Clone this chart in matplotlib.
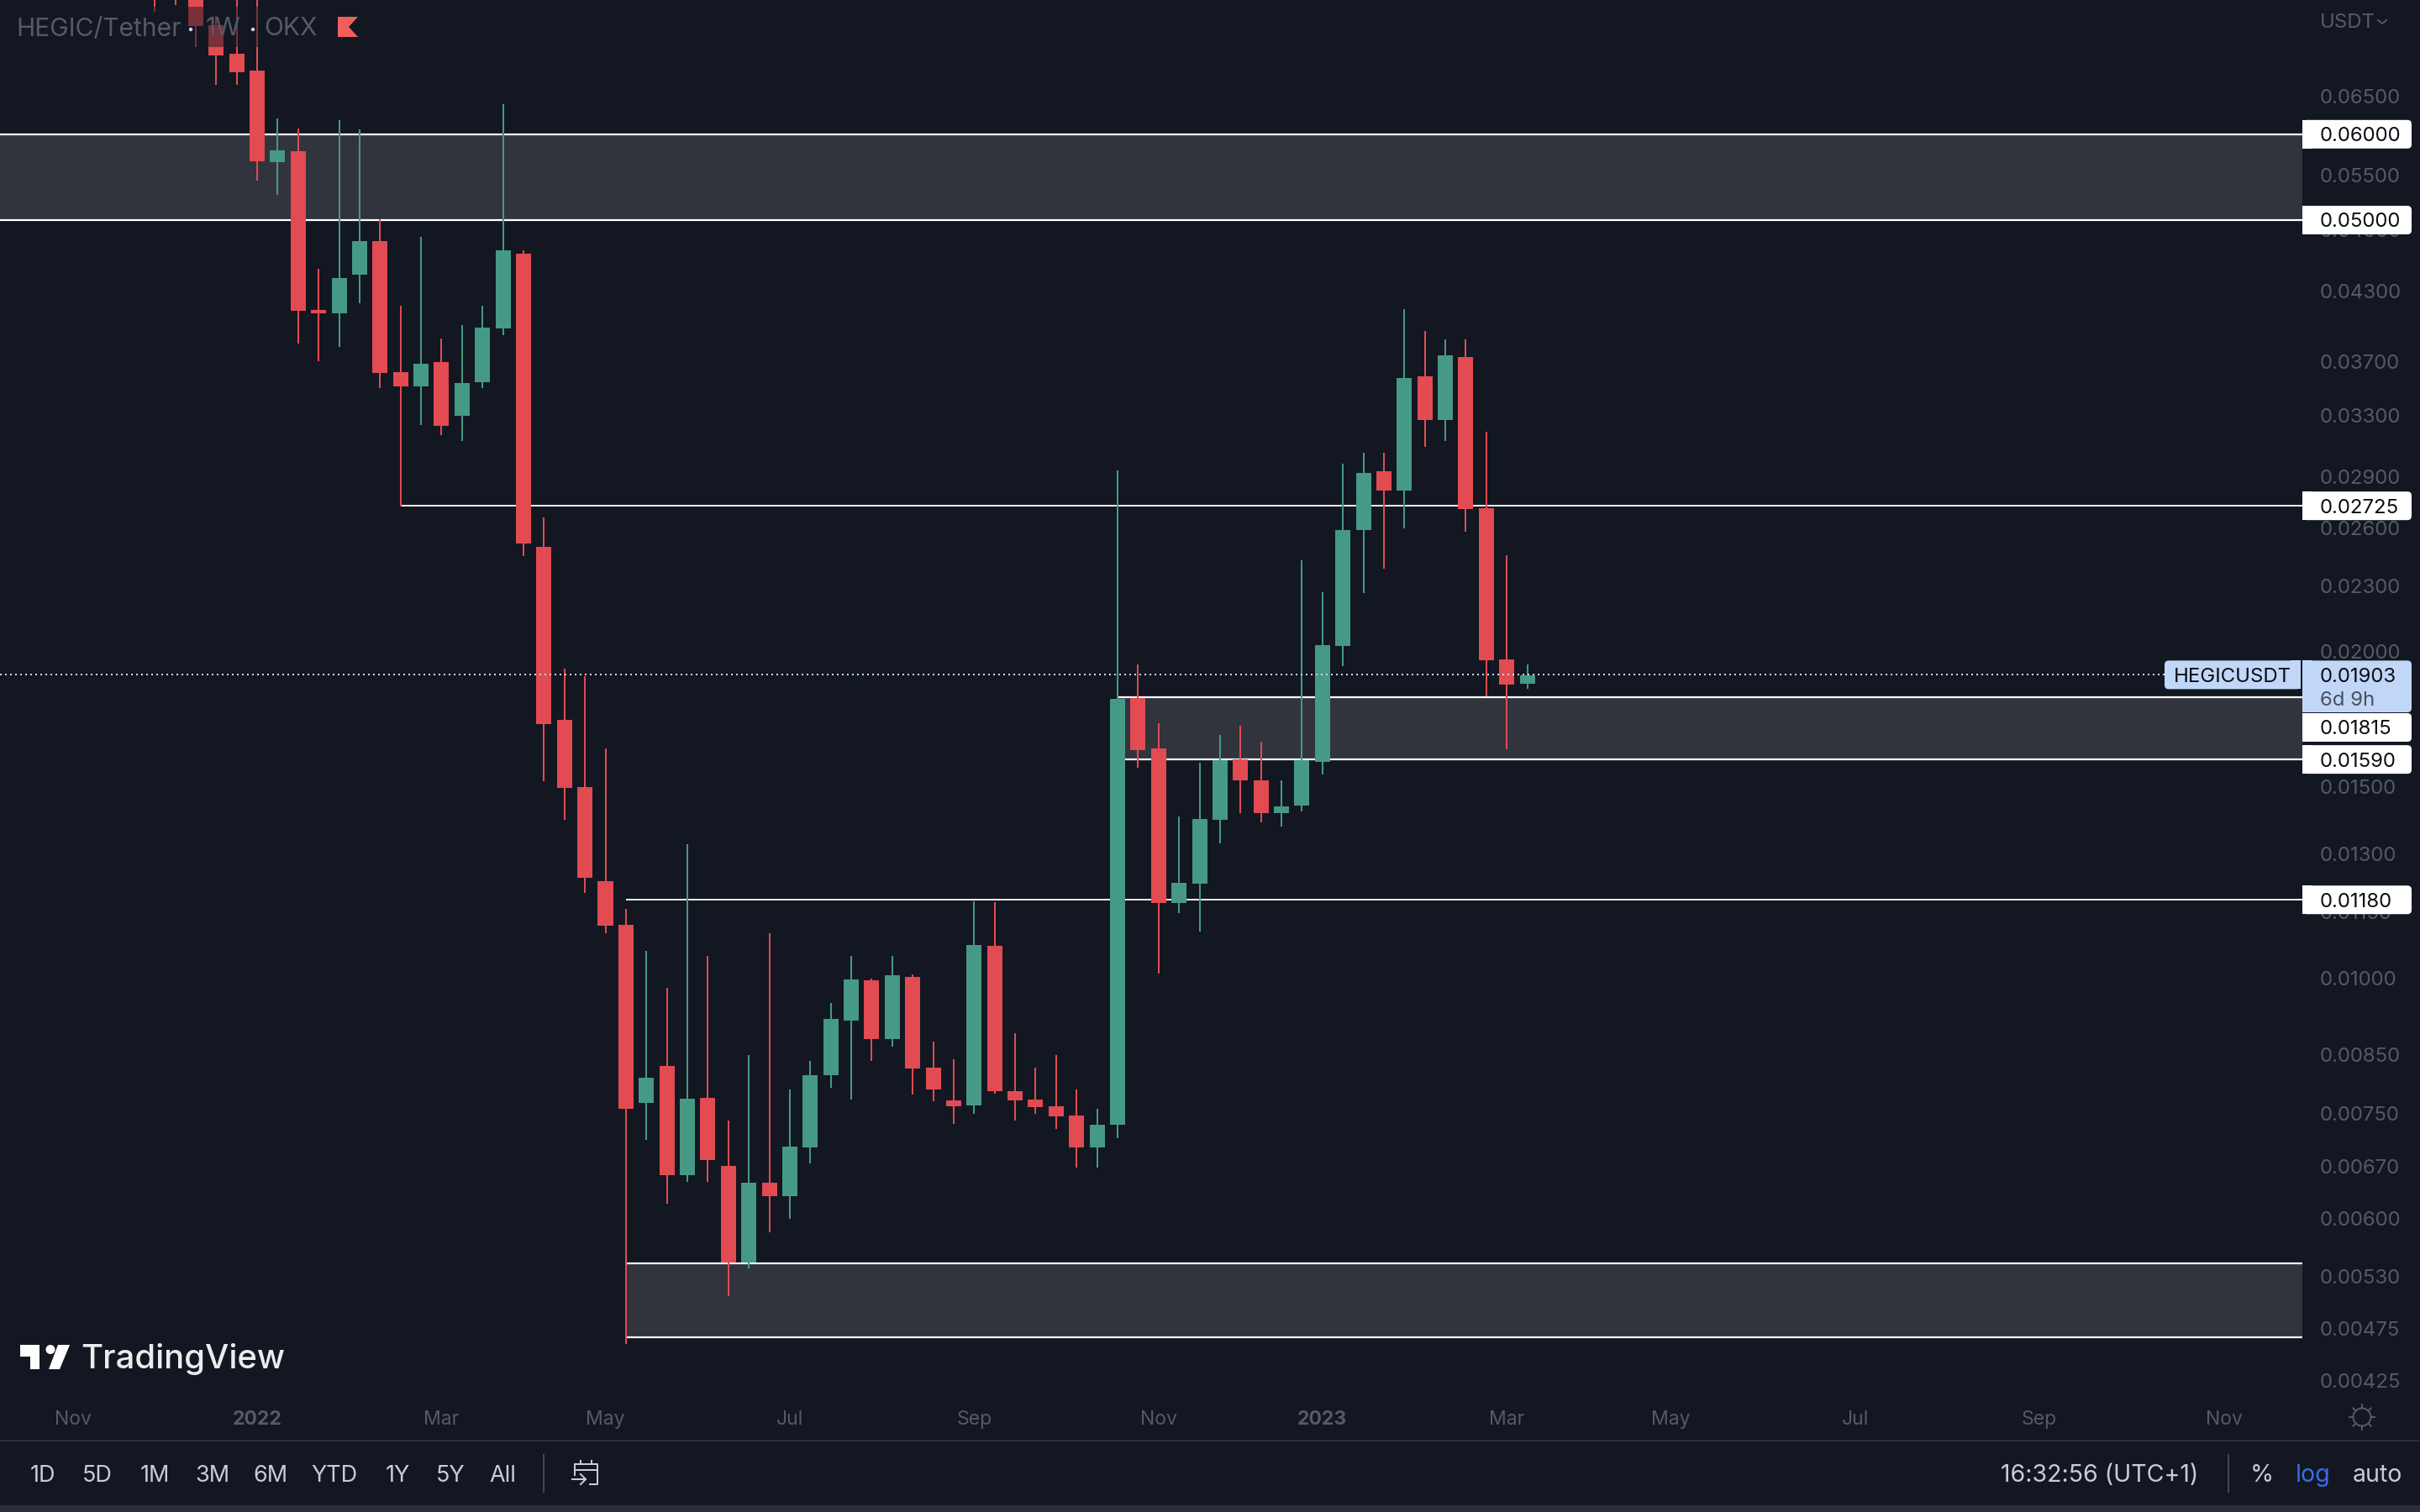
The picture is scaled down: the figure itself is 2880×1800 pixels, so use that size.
import matplotlib
matplotlib.use('Agg')
import matplotlib.pyplot as plt
import matplotlib.dates as mdates
from matplotlib.patches import Rectangle, FancyBboxPatch, Polygon, Circle
import numpy as np
import pandas as pd

plt.rcParams['font.family'] = ['Inter', 'DejaVu Sans']

#- weekly candles
opens = [0.088811,0.085698,0.081959,0.075637,0.071185,0.06869,0.05655,0.057877,0.041311,0.041017,0.044525,0.047819,0.036201,0.03512,0.036985,0.032994,0.035435,0.039721,0.046556,0.024978,0.017296,0.014995,0.012279,0.011191,0.007667,0.008293,0.006576,0.007749,0.006707,0.005463,0.006472,0.006289,0.006975,0.008132,0.009132,0.009948,0.00878,0.010019,0.008263,0.007708,0.007626,0.010703,0.007861,0.007722,0.007612,0.007464,0.006975,0.007319,0.018117,0.016278,0.011723,0.012214,0.013987,0.015905,0.015211,0.014189,0.014418,0.01582,0.020236,0.025885,0.029329,0.02815,0.03588,0.032701,0.037383,0.027115,0.019667,0.018675]
closes = [0.082694,0.081232,0.075502,0.070931,0.068445,0.056651,0.05798,0.041237,0.041017,0.044209,0.047819,0.036137,0.03512,0.036853,0.032295,0.035371,0.039792,0.04689,0.025157,0.017142,0.014969,0.012367,0.011171,0.007572,0.008088,0.006576,0.007736,0.006791,0.005463,0.006472,0.006289,0.006988,0.008132,0.009164,0.009966,0.00878,0.010055,0.008249,0.007889,0.007612,0.010722,0.007861,0.007708,0.007599,0.007451,0.006975,0.007319,0.018085,0.01622,0.011723,0.012236,0.014012,0.015876,0.015211,0.014189,0.014392,0.015876,0.020272,0.025885,0.029224,0.02815,0.035752,0.032701,0.037516,0.027066,0.019632,0.018642,0.019011]
highs = [0.09204,0.09041,0.08418,0.07714,0.08123,0.08051,0.06205,0.06073,0.04508,0.06183,0.06063,0.05009,0.04168,0.04825,0.03888,0.04001,0.04168,0.06396,0.04689,0.02659,0.01928,0.01898,0.01628,0.01158,0.01059,0.00979,0.01328,0.01048,0.00738,0.00849,0.01099,0.00789,0.00838,0.00948,0.01048,0.00998,0.01048,0.01007,0.00873,0.00841,0.01176,0.01174,0.00889,0.00826,0.00849,0.00789,0.00757,0.02938,0.01946,0.01717,0.01409,0.01579,0.01675,0.01708,0.01651,0.01521,0.02428,0.02268,0.0298,0.0305,0.0305,0.04138,0.03951,0.03881,0.03881,0.03189,0.02454,0.01946]
lows = [0.07783,0.07895,0.07221,0.06664,0.06664,0.05437,0.05275,0.03847,0.03705,0.03819,0.0419,0.03499,0.02721,0.03235,0.03167,0.03127,0.03499,0.03916,0.02449,0.01518,0.01399,0.01198,0.01099,0.00459,0.00709,0.00619,0.00648,0.00648,0.00509,0.00539,0.00582,0.00599,0.00674,0.00792,0.00772,0.00838,0.00864,0.0078,0.00769,0.00733,0.00749,0.00782,0.00738,0.00749,0.00725,0.00668,0.00668,0.00711,0.01562,0.01009,0.01147,0.01103,0.01331,0.01419,0.01391,0.01379,0.01424,0.0154,0.01939,0.02264,0.02385,0.02598,0.03089,0.03127,0.02579,0.01818,0.01625,0.01848]
last_week = '2023-03-06'

price_ticks = [0.065,0.055,0.049,0.043,0.037,0.033,0.029,0.026,0.023,0.020,0.015,0.013,0.0115,0.010,0.0085,0.0075,0.0067,0.0060,0.0053,0.00475,0.00425]
time_tick_dates = ['2021-10-25','2021-12-27','2022-02-28','2022-04-25','2022-06-27','2022-08-29','2022-10-31','2022-12-26','2023-02-27','2023-04-24','2023-06-26','2023-08-28','2023-10-30']
time_tick_labels = ['Nov','2022','Mar','May','Jul','Sep','Nov','2023','Mar','May','Jul','Sep','Nov']

#- drawn levels: zones (top, bottom, first candle index, None = from the left edge)
zone_tops = [0.06,0.01815,0.005453]
zone_bots = [0.05,0.0159,0.004663]
zone_from = [None,47,23]
line_levels = [0.02725,0.0118]
line_from = [12,23]
last_price = 0.01903

BG = '#131722'
GREEN = '#459985'
RED = '#E14B51'
ZONE = '#31343D'
GREY = '#555A66'
UI = '#C9CCD4'
BLUE = '#C1D7F8'
W, H = 2880, 1800
PX = 72/100.0  #- points per pixel

fig = plt.figure(figsize=(W/100, H/100), dpi=100, facecolor=BG)
ax = fig.add_axes([0, (H-1660)/H, 2740/W, 1660/H], facecolor=BG)

weeks = mdates.date2num(pd.date_range(end=last_week, periods=len(closes), freq='7D'))
week_px = 24.38
def px2date(px):
    return weeks[-1] + (px-1817.6)/week_px*7

ax.set_yscale('log')
ax.set_ylim(0.0041275, 0.079795)
ax.set_xlim(px2date(0), px2date(2740))

#- zones and levels
for top,bot,start in zip(zone_tops,zone_bots,zone_from):
    x0 = px2date(0) if start is None else weeks[start]
    ax.fill_between([x0,px2date(2740)],[bot,bot],[top,top],color=ZONE,lw=0,zorder=1)
    ax.plot([x0,px2date(2740)],[top,top],color='white',lw=2.2*PX,zorder=2,solid_capstyle='butt')
    ax.plot([x0,px2date(2740)],[bot,bot],color='white',lw=2.2*PX,zorder=2,solid_capstyle='butt')
for lev,start in zip(line_levels,line_from):
    ax.plot([weeks[start],px2date(2740)],[lev,lev],color='#EDEDED',lw=2*PX,zorder=2,solid_capstyle='butt')

#- candles
colors = [GREEN if c >= o else RED for o,c in zip(opens,closes)]
ax.vlines(weeks,lows,highs,colors=colors,lw=2*PX,zorder=3)
tops = np.maximum(opens,closes)
bots = np.minimum(opens,closes)
ax.bar(weeks,tops-bots,bottom=bots,width=18/week_px*7,color=colors,lw=0,zorder=3)

#- last price
ax.plot([px2date(0),px2date(2576)],[last_price,last_price],color='#C5D8F8',lw=2*PX,ls=(0,(1,2)),zorder=4)

#- axes
for s in ax.spines.values():
    s.set_visible(False)
ax.yaxis.tick_right()
ax.set_yticks(price_ticks)
ax.set_yticklabels(['%.5f' % p for p in price_ticks])
ax.yaxis.set_minor_locator(matplotlib.ticker.NullLocator())
ax.tick_params(axis='y',length=0,pad=21*PX,labelsize=24*PX,labelcolor=GREY)
ax.set_xticks(mdates.date2num(pd.to_datetime(time_tick_dates)))
ax.set_xticklabels(time_tick_labels)
ax.tick_params(axis='x',length=0,pad=19*PX,labelsize=23*PX,labelcolor=GREY)
for lab in ax.get_xticklabels():
    if lab.get_text().startswith('20'):
        lab.set_fontweight('bold')

#- overlay in pixel coordinates for the chrome
ov = fig.add_axes([0,0,1,1])
ov.set_xlim(0,W)
ov.set_ylim(H,0)
ov.axis('off')
ov.patch.set_alpha(0)

def price_y(p):
    return H - ax.transData.transform((px2date(0),p))[1]

def box(x0,y0,x1,y1,color):
    ov.add_patch(FancyBboxPatch((x0,y0),x1-x0,y1-y0,boxstyle='round,pad=0,rounding_size=5',fc=color,ec='none',mutation_aspect=1))
    ov.add_patch(Rectangle((x0,y0),12,y1-y0,fc=color,ec='none'))

#- legend on top of the candles
ov.add_patch(Rectangle((0,8),382,48,fc=BG,ec='none',alpha=0.5))
ov.text(19,34.5,'HEGIC/Tether',color=GREY,fontsize=30*PX,va='center',ha='left')
ov.text(265,34.5,'1W',color=GREY,fontsize=30*PX,va='center',ha='center')
ov.text(314,34.5,'OKX',color=GREY,fontsize=30*PX,va='center',ha='left')
ov.add_patch(Circle((227,35),2.2,fc='#D1D4DC',ec='none'))
ov.add_patch(Circle((301,35),2.2,fc='#D1D4DC',ec='none'))
ov.add_patch(Polygon([(402,20),(426,20),(415,32),(426,44),(402,44)],fc='#F0605A',ec='none'))

#- currency
ov.text(2761,27,'USDT',color=GREY,fontsize=24*PX,va='center',ha='left')
ov.plot([2830,2835,2840],[24,28,24],color=GREY,lw=2*PX)

#- level labels on the price scale
level_labels = ['0.06000','0.05000','0.02725','0.01180','0.01590']
level_values = [0.06,0.05,0.02725,0.0118,0.0159]
for txt,val in zip(level_labels,level_values):
    yc = price_y(val)
    box(2740,yc-17,2870,yc+17,'white')
    ov.text(2761,yc,txt,color='#0B0E14',fontsize=24*PX,va='center_baseline',ha='left')
box(2740,849,2870,883,'white')
ov.text(2761,865.5,'0.01815',color='#0B0E14',fontsize=24*PX,va='center_baseline',ha='left')

#- last price label
yp = price_y(last_price)
box(2740,yp-17,2870,848,BLUE)
ov.text(2761,yp,'%.5f' % last_price,color='#0B0E14',fontsize=24*PX,va='center_baseline',ha='left')
ov.text(2761,832,'6d 9h',color='#4A5060',fontsize=24*PX,va='center_baseline',ha='left')
ov.add_patch(FancyBboxPatch((2576,yp-17),162,34,boxstyle='round,pad=0,rounding_size=5',fc=BLUE,ec='none'))
ov.add_patch(Rectangle((2726,yp-17),12,34,fc=BLUE,ec='none'))
ov.text(2657,yp,'HEGICUSDT',color='#0B0E14',fontsize=24*PX,va='center_baseline',ha='center')

#- TradingView mark
ov.add_patch(Polygon([(24,1601),(47,1601),(47,1630),(36,1630),(36,1615),(24,1615)],fc='white',ec='none'))
ov.add_patch(Circle((60,1606.5),5.5,fc='white',ec='none'))
ov.add_patch(Polygon([(69,1601),(83,1601),(71,1630),(58,1630)],fc='white',ec='none'))
ov.text(96,1618,'TradingView',color='#ECECEC',fontsize=40*PX,fontweight='medium',va='center',ha='left')

#- bottom bar
ov.plot([0,W],[1715,1715],color='#2A2E39',lw=2*PX)
ov.add_patch(Rectangle((0,1792),W,8,fc='#2A2E39',ec='none'))
ranges = ['1D','5D','1M','3M','6M','YTD','1Y','5Y','All']
range_x = [51,116,184,253,322,398,473,536,598]
for lab,x in zip(ranges,range_x):
    ov.text(x,1757,lab,color=UI,fontsize=27*PX,va='center',ha='center')
ov.plot([647,647],[1732,1776],color='#434651',lw=2*PX)
ov.plot([2652,2652],[1732,1776],color='#434651',lw=2*PX)
ov.text(2499,1757,'16:32:56 (UTC+1)',color=UI,fontsize=28.5*PX,va='center',ha='center')
ov.text(2692,1757,'%',color=UI,fontsize=28.5*PX,va='center',ha='center')
ov.text(2753,1757,'log',color='#3A6BEA',fontsize=28.5*PX,va='center',ha='center')
ov.text(2829,1757,'auto',color=UI,fontsize=28.5*PX,va='center',ha='center')

#- calendar icon
ov.plot([684,684],[1743,1756],color=UI,lw=2*PX)
ov.plot([684,711,711,702],[1743,1743,1767,1767],color=UI,lw=2*PX)
ov.plot([684,711],[1750,1750],color=UI,lw=2*PX)
ov.plot([691,691],[1739,1743],color=UI,lw=2*PX)
ov.plot([704,704],[1739,1743],color=UI,lw=2*PX)
ov.plot([681,697],[1761,1761],color=UI,lw=2*PX)
ov.plot([691,697,691],[1755,1761,1767],color=UI,lw=2*PX)

#- sun icon
ov.add_patch(Circle((2811,1687),10.5,fc='none',ec=GREY,lw=2*PX))
for a in np.arange(8)*np.pi/4:
    ov.plot([2811+11*np.cos(a),2811+15*np.cos(a)],[1687+11*np.sin(a),1687+15*np.sin(a)],color=GREY,lw=2*PX)

fig.savefig('out.png',dpi=100,facecolor=BG)
